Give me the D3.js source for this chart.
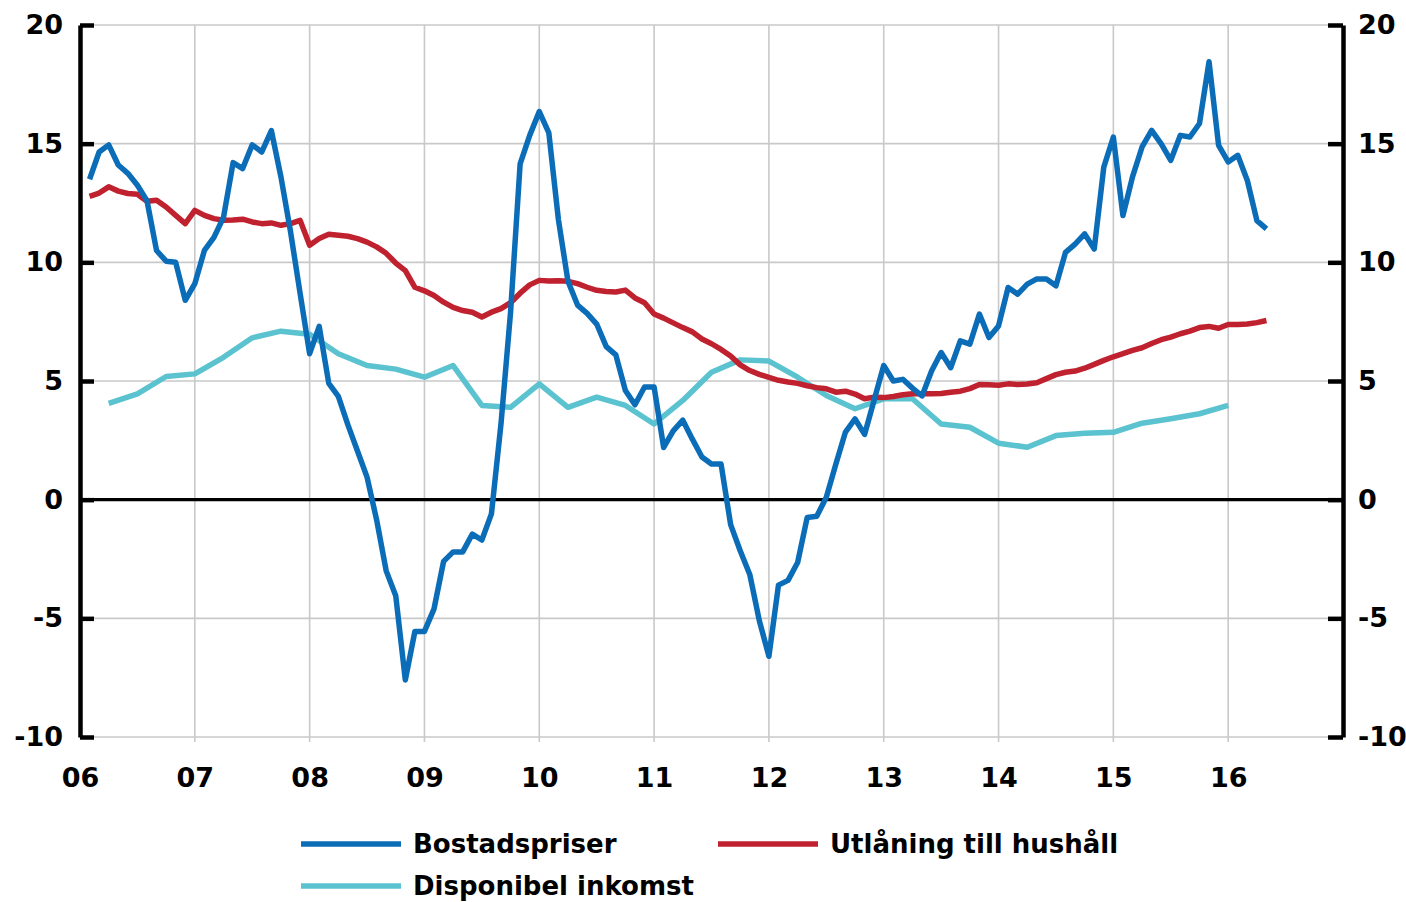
<!DOCTYPE html>
<html><head><meta charset="utf-8">
<script src="https://cdn.jsdelivr.net/npm/d3@7"></script>
<style>
html,body{margin:0;padding:0;background:#fff;}
svg text{font-family:"DejaVu Sans",sans-serif;font-weight:bold;fill:#000;}
</style></head>
<body>
<svg id="chart" width="1406" height="902"></svg>
<script>
// x-axis categories (years 2006–2016)
const yearLabels = ["06","07","08","09","10","11","12","13","14","15","16"];
const yTicks = [-10, -5, 0, 5, 10, 15, 20];

// Bostadspriser, monthly, Jan 2006 – Apr 2016 (annual % change)
const bostadspriser = [
13.5,14.65,14.95,14.1,13.75,13.25,12.6,10.5,10.05,10.0,8.4,9.1,
10.5,11.05,11.9,14.2,13.95,14.95,14.65,15.55,13.6,11.3,8.7,6.15,
7.3,4.9,4.35,3.15,2.05,0.95,-0.85,-3.0,-4.05,-7.6,-5.55,-5.55,
-4.6,-2.6,-2.2,-2.2,-1.45,-1.7,-0.6,3.2,7.9,14.15,15.35,16.35,
15.45,11.8,9.2,8.2,7.85,7.4,6.45,6.1,4.6,4.0,4.75,4.75,
2.2,2.9,3.35,2.55,1.8,1.5,1.5,-1.05,-2.15,-3.15,-5.1,-6.6,
-3.6,-3.4,-2.65,-0.75,-0.7,0.1,1.5,2.85,3.4,2.75,4.2,5.65,
5.0,5.07,4.7,4.37,5.42,6.2,5.56,6.69,6.55,7.82,6.83,7.32,
8.94,8.66,9.08,9.3,9.3,9.01,10.42,10.77,11.2,10.56,14.01,15.28,
11.97,13.6,14.86,15.56,14.99,14.3,15.35,15.28,15.85,18.45,14.93,14.23,
14.51,13.45,11.76,11.41];

// Utlåning till hushåll, monthly, Jan 2006 – Apr 2016
const utlaning = [
12.78,12.92,13.18,13.0,12.9,12.87,12.57,12.62,12.33,11.98,11.63,12.19,
11.98,11.84,11.77,11.78,11.82,11.7,11.63,11.66,11.56,11.63,11.77,10.72,
11.0,11.18,11.14,11.1,11.0,10.85,10.65,10.38,9.97,9.65,8.95,8.8,
8.6,8.32,8.1,7.97,7.9,7.7,7.9,8.05,8.3,8.7,9.05,9.24,
9.21,9.22,9.2,9.1,8.95,8.82,8.77,8.75,8.83,8.5,8.3,7.82,
7.65,7.45,7.25,7.07,6.77,6.57,6.33,6.05,5.68,5.44,5.28,5.15,
5.03,4.96,4.9,4.8,4.72,4.67,4.53,4.57,4.45,4.25,4.32,4.3,
4.35,4.42,4.46,4.46,4.46,4.47,4.53,4.57,4.68,4.85,4.84,4.82,
4.88,4.85,4.87,4.93,5.1,5.27,5.37,5.42,5.54,5.7,5.87,6.02,
6.15,6.29,6.4,6.58,6.74,6.85,6.99,7.1,7.25,7.3,7.22,7.38,
7.38,7.4,7.46,7.55];

// Disponibel inkomst, quarterly, Q1 2006 – Q4 2015
const inkomst = [
4.06,4.46,5.19,5.3,6.0,6.82,7.1,6.97,6.15,5.65,
5.5,5.16,5.65,3.97,3.89,4.88,3.89,4.32,3.97,3.19,
4.18,5.37,5.89,5.84,5.16,4.39,3.83,4.25,4.25,3.19,
3.05,2.38,2.21,2.7,2.8,2.84,3.22,3.41,3.62,3.97];

const seriesNames = ["Bostadspriser", "Utlåning till hushåll", "Disponibel inkomst"];
const seriesColors = ["#0B6DB7", "#C0212F", "#5BC2CF"];

const svg = d3.select("#chart");
svg.append("rect").attr("width",1406).attr("height",902).attr("fill","#fff");

// scales: x in months since Jan 1 2006
const x = d3.scaleLinear().domain([0, 132]).range([80, 1343]);
const y = d3.scaleLinear().domain([-10, 20]).range([737, 25]);

const monthlyPts = arr => arr.map((v,i)=>({m:i+1, v}));
const quarterlyPts = arr => arr.map((v,i)=>({m:3*(i+1), v}));

// horizontal grid
svg.append("g").selectAll("line").data(yTicks.filter(d=>d!==0)).join("line")
  .attr("x1", x(0)).attr("x2", x(132))
  .attr("y1", d=>y(d)).attr("y2", d=>y(d))
  .attr("stroke","#C9C9C9").attr("stroke-width",1.6);

// vertical grid (years)
const yearMonths = yearLabels.map((d,i)=>i*12);
svg.append("g").selectAll("line").data(yearMonths.slice(1)).join("line")
  .attr("x1", d=>x(d)).attr("x2", d=>x(d))
  .attr("y1", y(20)).attr("y2", y(-10)+5)
  .attr("stroke","#C9C9C9").attr("stroke-width",1.6);

// x labels
const xAxis = d3.axisBottom(x).tickValues(yearMonths).tickSize(0).tickPadding(30.5)
  .tickFormat((d,i)=>yearLabels[i]);
const gx = svg.append("g").attr("transform",`translate(0,${y(-10)})`).call(xAxis);
gx.select(".domain").remove();
gx.selectAll("text").attr("font-size",27).style("font-family","DejaVu Sans").style("font-weight","bold");

// zero line
svg.append("line").attr("x1",x(0)).attr("x2",x(132)).attr("y1",y(0)).attr("y2",y(0))
  .attr("stroke","#000").attr("stroke-width",3.2);

// left & right axes
const fmt = d=>String(d);
const gl = svg.append("g").attr("transform",`translate(${x(0)},0)`)
  .call(d3.axisLeft(y).tickValues(yTicks).tickSize(-14).tickSizeOuter(0).tickPadding(17).tickFormat(fmt));
const gr = svg.append("g").attr("transform",`translate(${x(132)},0)`)
  .call(d3.axisRight(y).tickValues(yTicks).tickSize(-15).tickSizeOuter(0).tickPadding(15).tickFormat(fmt));
[gl,gr].forEach(g=>{
  g.select(".domain").attr("stroke","#000").attr("stroke-width",4.5);
  g.selectAll(".tick line").attr("stroke","#000").attr("stroke-width",4.5);
  g.selectAll("text").attr("font-size",27).style("font-family","DejaVu Sans").style("font-weight","bold");
});

// lines
const line = d3.line().x(d=>x(d.m)).y(d=>y(d.v));
const data = [monthlyPts(bostadspriser), monthlyPts(utlaning), quarterlyPts(inkomst)];
[2,1,0].forEach(i=>{
  svg.append("path").datum(data[i]).attr("d",line)
    .attr("fill","none").attr("stroke",seriesColors[i]).attr("stroke-width",5.5)
    .attr("stroke-linejoin","round").attr("stroke-linecap","butt");
});

// legend
const legendPos = [{lx:301, ly:844}, {lx:718, ly:844}, {lx:301, ly:886}];
const lg = svg.append("g").selectAll("g").data(seriesNames).join("g")
  .attr("transform",(d,i)=>`translate(${legendPos[i].lx},${legendPos[i].ly})`);
lg.append("line").attr("x1",0).attr("x2",100).attr("y1",0).attr("y2",0)
  .attr("stroke",(d,i)=>seriesColors[i]).attr("stroke-width",5.5);
lg.append("text").attr("x",112).attr("y",0).attr("dy","0.36em")
  .attr("font-size",26).text(d=>d);
</script>
</body></html>
